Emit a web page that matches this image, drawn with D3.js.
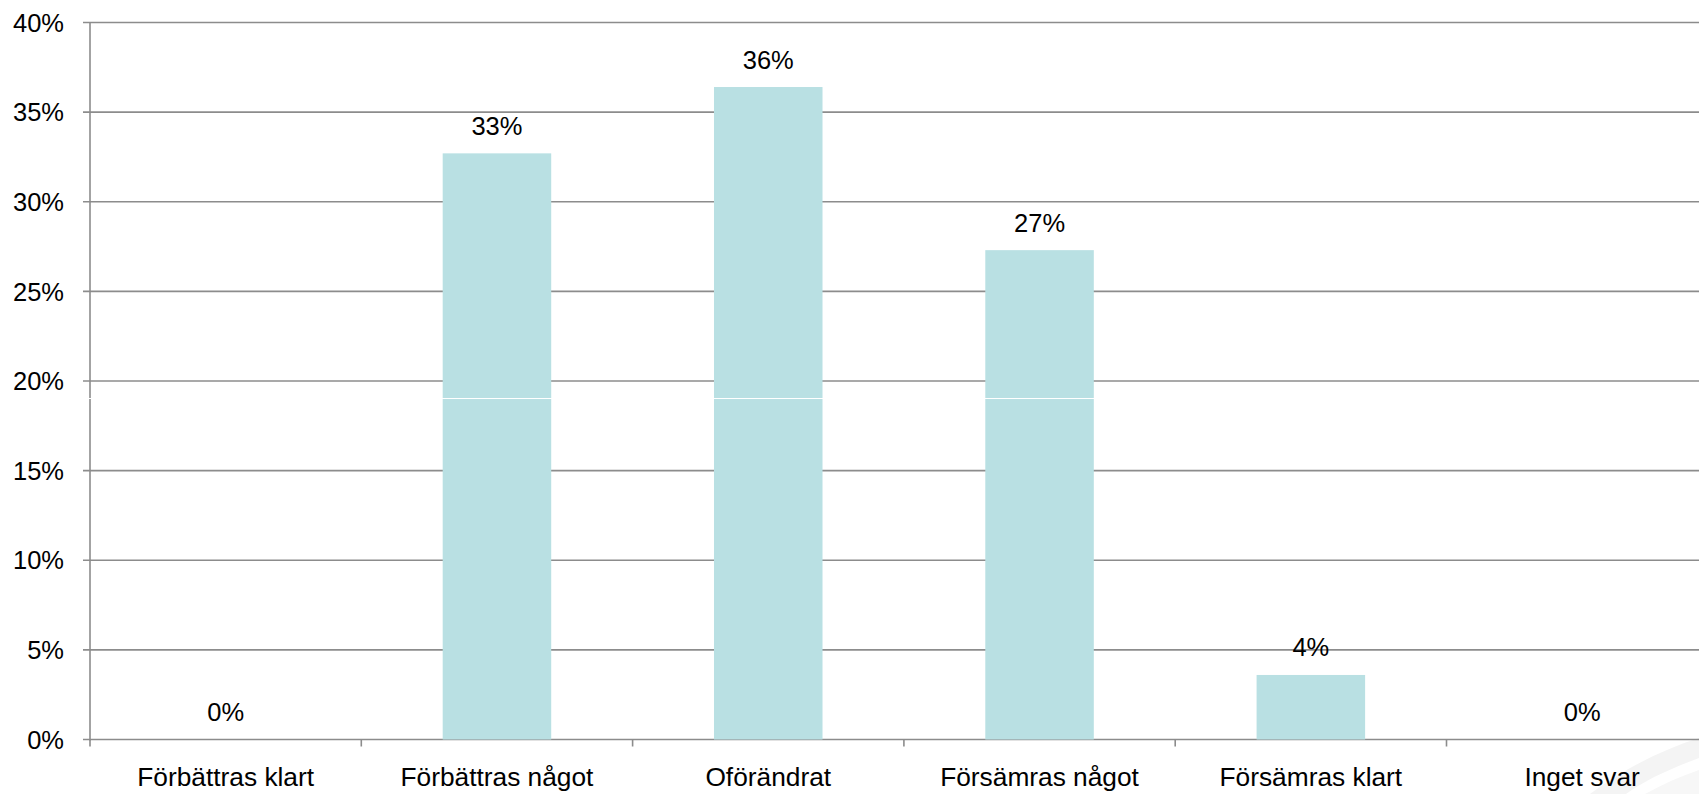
<!DOCTYPE html>
<html>
<head>
<meta charset="utf-8">
<script src="https://cdn.jsdelivr.net/npm/d3@7"></script>
<style>
  html, body { margin: 0; padding: 0; background: #ffffff; overflow: hidden; }
  svg { display: block; }
  text { font-family: "Liberation Sans", Arial, Helvetica, sans-serif; fill: #000; }
</style>
</head>
<body>
<svg id="chart" width="1699" height="794"></svg>
<script>
const categories = ["Förbättras klart", "Förbättras något", "Oförändrat", "Försämras något", "Försämras klart", "Inget svar"];
const values = [0, 32.7, 36.4, 27.3, 3.6, 0];
const valueLabels = ["0%", "33%", "36%", "27%", "4%", "0%"];
const yTicks = [0, 5, 10, 15, 20, 25, 30, 35, 40];

(function () {
const W = 1699, H = 794;
const mLeft = 90, mTop = 22.5, mBottom = 739.5;
const step = 271.3;
const mRight = mLeft + categories.length * step;

const svg = d3.select("#chart");

// faint watermark swoosh bottom-right
svg.append("path")
  .attr("d", "M1590,794 C1625,768 1662,750 1699,738 L1699,758 C1672,768 1645,780 1626,794 Z")
  .attr("fill", "#f4f4f4");
svg.append("path")
  .attr("d", "M1645,794 C1663,784 1681,776 1699,770 L1699,794 Z")
  .attr("fill", "#f7f7f7");

const x = d3.scaleBand().domain(categories).range([mLeft, mRight]).paddingInner(0.6).paddingOuter(0.3);
const y = d3.scaleLinear().domain([0, 40]).range([mBottom, mTop]);

// gridlines
svg.append("g").selectAll("line").data(yTicks).join("line")
  .attr("x1", mLeft - 7).attr("x2", W)
  .attr("y1", d => y(d)).attr("y2", d => y(d))
  .attr("stroke", "#8c8c8c").attr("stroke-width", 1.6);

// y tick labels
svg.append("g").selectAll("text").data(yTicks).join("text")
  .attr("x", 64).attr("y", d => y(d) + 9.2)
  .attr("text-anchor", "end")
  .attr("font-size", 25.5)
  .text(d => d + "%");

// y axis line
svg.append("line")
  .attr("x1", mLeft).attr("x2", mLeft).attr("y1", mTop).attr("y2", mBottom + 1)
  .attr("stroke", "#8c8c8c").attr("stroke-width", 1.6);

// x ticks at band boundaries
const boundaries = d3.range(categories.length + 1).map(i => mLeft + i * step);
svg.append("g").selectAll("line").data(boundaries).join("line")
  .attr("x1", d => d).attr("x2", d => d)
  .attr("y1", mBottom).attr("y2", mBottom + 7)
  .attr("stroke", "#8c8c8c").attr("stroke-width", 1.6);

// bars
svg.append("g").selectAll("rect").data(values).join("rect")
  .attr("x", (d, i) => x(categories[i]))
  .attr("width", x.bandwidth())
  .attr("y", d => y(d))
  .attr("height", d => mBottom - y(d))
  .attr("fill", "#b9e0e3");

// rendering seam (white line)
svg.append("line")
  .attr("x1", 0).attr("x2", W).attr("y1", 398.5).attr("y2", 398.5)
  .attr("stroke", "#ffffff").attr("stroke-width", 1.2);

// value labels
svg.append("g").selectAll("text").data(values).join("text")
  .attr("x", (d, i) => x(categories[i]) + x.bandwidth() / 2)
  .attr("y", d => y(d) - 18.5)
  .attr("text-anchor", "middle")
  .attr("font-size", 25.5)
  .text((d, i) => valueLabels[i]);

// category labels
svg.append("g").selectAll("text").data(categories).join("text")
  .attr("x", d => x(d) + x.bandwidth() / 2)
  .attr("y", 786)
  .attr("text-anchor", "middle")
  .attr("font-size", 26.3)
  .text(d => d);
})();
</script>
</body>
</html>
